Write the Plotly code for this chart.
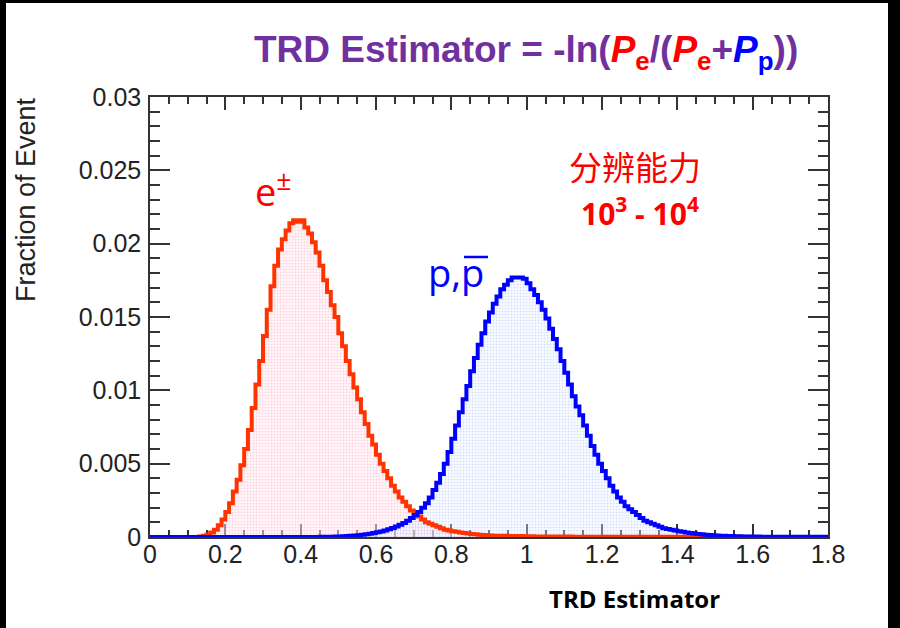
import plotly.graph_objects as go

# ---------------- data ----------------
bin_width = 0.01
x_min, x_max = 0.0, 1.8
bin_left = [round(i * bin_width, 2) for i in range(180)]

electron = [
    0, 0, 0, 0, 0, 0, 0, 0, 0, 0,
    0, 0, 0, 0.00003, 0.00008, 0.00015, 0.0003, 0.0005, 0.0008, 0.0012,
    0.0017, 0.0023, 0.0031, 0.0039, 0.0049, 0.0060, 0.0073, 0.0088, 0.0104, 0.0120,
    0.0137, 0.0155, 0.0171, 0.0185, 0.0196, 0.0203, 0.0209, 0.0214, 0.0216, 0.0215,
    0.0216, 0.0211, 0.0207, 0.0201, 0.0194, 0.0185, 0.0175, 0.0167, 0.0158, 0.0150,
    0.0139, 0.0130, 0.0120, 0.0111, 0.0102, 0.0094, 0.0085, 0.0077, 0.0069, 0.0063,
    0.0056, 0.0050, 0.0045, 0.0040, 0.0035, 0.0031, 0.0027, 0.0024, 0.0021, 0.0018,
    0.0016, 0.0014, 0.0012, 0.0010, 0.0009, 0.0008, 0.0007, 0.0006, 0.0005, 0.00045,
    0.0004, 0.00035, 0.0003, 0.00027, 0.00024, 0.0002, 0.00018, 0.00016, 0.00014, 0.00012,
    0.0001, 0.00009, 0.00009, 0.00008, 0.00008, 0.00007, 0.00007, 0.00006, 0.00006, 0.00005,
    0.00005, 0.00005, 0.00004, 0.00004, 0.00004, 0.00004, 0.00003, 0.00003, 0.00003, 0.00003,
    0.00003, 0.00003, 0.00002, 0.00002, 0.00002, 0.00002, 0.00002, 0.00002, 0.00002, 0.00002,
    0.00002, 0.00002, 0.00002, 0.00002, 0.00002, 0.00002, 0.00002, 0.00002, 0.00002, 0.00002,
    0.00001, 0.00001, 0.00001, 0.00001, 0.00001, 0.00001, 0.00001, 0.00001, 0.00001, 0.00001,
    0.00001, 0.00001, 0.00001, 0.00001, 0.00001, 0.00001, 0.00001, 0.00001, 0.00001, 0.00001,
    0.00001, 0.00001, 0.00001, 0.00001, 0.00001, 0.00001, 0.00001, 0.00001, 0.00001, 0.00001,
    0, 0, 0, 0, 0, 0, 0, 0, 0, 0,
    0, 0, 0, 0, 0, 0, 0, 0, 0, 0,
]

proton = [
    0, 0, 0, 0, 0, 0, 0, 0, 0, 0,
    0, 0, 0, 0, 0, 0, 0, 0, 0, 0,
    0, 0, 0, 0, 0, 0, 0, 0, 0, 0,
    0, 0, 0, 0, 0, 0, 0, 0, 0, 0,
    0, 0, 0, 0, 0, 0.00001, 0.00001, 0.00002, 0.00002, 0.00003,
    0.00004, 0.00005, 0.00006, 0.00008, 0.0001, 0.00012, 0.00015, 0.00018, 0.00022, 0.00027,
    0.00032, 0.00038, 0.00045, 0.00053, 0.00062, 0.00072, 0.00083, 0.00095, 0.0011, 0.0013,
    0.0015, 0.0017, 0.0020, 0.0023, 0.0027, 0.0032, 0.0037, 0.0043, 0.0050, 0.0058,
    0.0067, 0.0076, 0.0085, 0.0094, 0.0103, 0.0113, 0.0122, 0.0131, 0.0139, 0.0147,
    0.0153, 0.0159, 0.0164, 0.0169, 0.0172, 0.0175, 0.0177, 0.0177, 0.0177, 0.0176,
    0.0173, 0.0169, 0.0165, 0.0160, 0.0155, 0.0149, 0.0142, 0.0135, 0.0128, 0.0120,
    0.0112, 0.0104, 0.0096, 0.0089, 0.0083, 0.0076, 0.0069, 0.0062, 0.0056, 0.0050,
    0.0045, 0.0040, 0.0035, 0.0031, 0.0027, 0.0024, 0.0021, 0.0019, 0.0017, 0.0015,
    0.0013, 0.0011, 0.0010, 0.0009, 0.0008, 0.0007, 0.0006, 0.00055, 0.0005, 0.00045,
    0.0004, 0.00035, 0.0003, 0.00027, 0.00024, 0.0002, 0.00018, 0.00016, 0.00014, 0.00012,
    0.0001, 0.00009, 0.00008, 0.00007, 0.00006, 0.00005, 0.00005, 0.00004, 0.00004, 0.00003,
    0.00003, 0.00003, 0.00002, 0.00002, 0.00002, 0.00002, 0.00002, 0.00002, 0.00002, 0.00002,
    0.00001, 0.00001, 0.00001, 0.00001, 0.00001, 0.00001, 0.00001, 0.00001, 0.00001, 0.00001,
]

x_ticks = [0, 0.2, 0.4, 0.6, 0.8, 1.0, 1.2, 1.4, 1.6, 1.8]
y_ticks = [0, 0.005, 0.01, 0.015, 0.02, 0.025, 0.03]

assert len(electron) == 180 and len(proton) == 180

# ---------------- layout helpers ----------------
W, H = 900, 628
PL, PR, PT, PB = 150, 828, 97, 537          # plot area in page pixels
ML, MR, MT, MB = PL, W - PR, PT, H - PB


def px(x):
    return (x - PL) / (PR - PL)


def py(y):
    return (PB - y) / (PB - PT)


def step(vals):
    return bin_left + [x_max], vals + [vals[-1]]


RED = "#FF3300"
BLUE = "#0000FF"
TICK = "#333333"

fig = go.Figure()

ex, ey = step(electron)
bx, by = step(proton)

fig.add_trace(go.Scatter(
    x=ex, y=ey, mode="lines", line=dict(width=0, shape="hv"),
    fill="tozeroy", fillcolor="rgba(255,225,232,0.35)",
    fillpattern=dict(shape=".", fgcolor="rgba(255,90,140,0.45)",
                     bgcolor="rgba(255,238,242,0.5)", size=3, solidity=0.3),
    hoverinfo="skip", showlegend=False))
fig.add_trace(go.Scatter(
    x=bx, y=by, mode="lines", line=dict(width=0, shape="hv"),
    fill="tozeroy", fillcolor="rgba(230,240,255,0.3)",
    fillpattern=dict(shape=".", fgcolor="rgba(100,130,255,0.45)",
                     bgcolor="rgba(238,246,255,0.35)", size=3, solidity=0.3),
    hoverinfo="skip", showlegend=False))
fig.add_trace(go.Scatter(
    x=ex, y=ey, mode="lines", line=dict(color=RED, width=4, shape="hv"),
    showlegend=False))
fig.add_trace(go.Scatter(
    x=bx, y=by, mode="lines", line=dict(color=BLUE, width=4, shape="hv"),
    showlegend=False))

axis_common = dict(
    showline=True, linecolor=TICK, linewidth=1.5, mirror="ticks",
    ticks="inside", tickcolor=TICK, tickwidth=1.5,
    showgrid=False, zeroline=False,
    tickfont=dict(family="Liberation Sans, Arial, sans-serif", size=25, color="#222222"),
    layer="below traces",
)

fig.update_xaxes(
    range=[x_min, x_max], tickvals=x_ticks, ticklen=13,
    minor=dict(ticks="inside", dtick=0.05, ticklen=7, tickcolor=TICK, tickwidth=1.5, showgrid=False),
    ticklabelstandoff=-6,
    **axis_common)
fig.update_yaxes(
    range=[0, 0.03], tickvals=y_ticks, ticklen=20,
    minor=dict(ticks="inside", dtick=0.001, ticklen=10, tickcolor=TICK, tickwidth=1.5, showgrid=False),
    ticklabelstandoff=2,
    **axis_common)

PURPLE = "#7030A0"
title = (
    "<b>TRD Estimator = -ln("
    f"<span style='color:#FF0000'><i>P</i><sub>e</sub></span>/("
    f"<span style='color:#FF0000'><i>P</i><sub>e</sub></span>+"
    f"<span style='color:#0000FF'><i>P</i><sub>p</sub></span>))</b>"
)

annotations = [
    dict(text=title, x=px(526), y=py(52), xref="paper", yref="paper",
         showarrow=False, xanchor="center", yanchor="middle",
         font=dict(family="Liberation Sans, Arial, sans-serif", size=37, color=PURPLE)),
    dict(text="Fraction of Event", x=px(26), y=py(200), xref="paper", yref="paper",
         showarrow=False, textangle=-90, xanchor="center", yanchor="middle",
         font=dict(family="Liberation Sans, Arial, sans-serif", size=27, color="#222222")),
    dict(text="<b>TRD Estimator</b>", x=px(634), y=py(598), xref="paper", yref="paper",
         showarrow=False, xanchor="center", yanchor="middle",
         font=dict(family="Open Sans, sans-serif", size=24, color="#000000")),
    dict(text="e<sup>±</sup>", x=px(253), y=py(190), xref="paper", yref="paper",
         showarrow=False, xanchor="left", yanchor="middle",
         font=dict(family="Open Sans, sans-serif", size=38, color="#FF0000")),
    dict(text="p,p", x=px(426), y=py(272), xref="paper", yref="paper",
         showarrow=False, xanchor="left", yanchor="middle",
         font=dict(family="Open Sans, sans-serif", size=38, color=BLUE)),
    dict(text="分辨能力", x=px(635), y=py(166), xref="paper", yref="paper",
         showarrow=False, xanchor="center", yanchor="middle",
         font=dict(family="Noto Sans CJK SC, sans-serif", size=33, color="#FF0000")),
    dict(text="<b>10<sup>3</sup> - 10<sup>4</sup></b>", x=px(640), y=py(212), xref="paper", yref="paper",
         showarrow=False, xanchor="center", yanchor="middle",
         font=dict(family="Open Sans, sans-serif", size=30, color="#FF0000")),
]

shapes = [
    # overline on anti-proton symbol
    dict(type="line", xref="paper", yref="paper", x0=px(464), x1=px(488), y0=py(257), y1=py(257),
         line=dict(color=BLUE, width=2.5)),
    # black slide borders (left, top, right)
    dict(type="rect", xref="paper", yref="paper", x0=px(0), x1=px(6), y0=py(H), y1=py(0),
         fillcolor="black", line=dict(width=0), layer="above"),
    dict(type="rect", xref="paper", yref="paper", x0=px(0), x1=px(W), y0=py(3), y1=py(0),
         fillcolor="black", line=dict(width=0), layer="above"),
    dict(type="rect", xref="paper", yref="paper", x0=px(888), x1=px(W), y0=py(H), y1=py(0),
         fillcolor="black", line=dict(width=0), layer="above"),
]

fig.update_layout(
    width=W, height=H,
    margin=dict(l=ML, r=MR, t=MT, b=MB, pad=0),
    paper_bgcolor="white", plot_bgcolor="white",
    annotations=annotations, shapes=shapes,
    showlegend=False,
)

fig.write_html(
    "out.html",
    config={"displayModeBar": False},
    post_script="document.body.style.margin='0';document.body.style.overflow='hidden';",
)
